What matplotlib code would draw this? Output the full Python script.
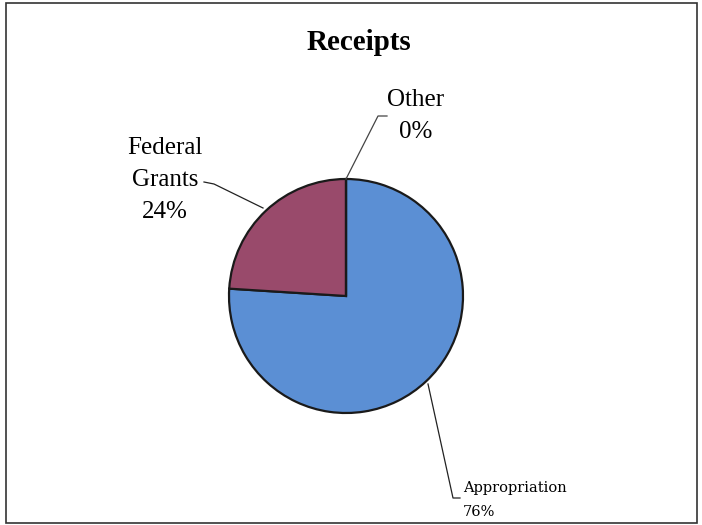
import matplotlib.pyplot as plt
from matplotlib.patches import Rectangle

TITLE = "Receipts"
LABELS = ["Appropriation", "Federal Grants", "Other"]
SHARES = [76, 24, 0]
COLORS = ["#5b8fd4", "#994a6b", "#d9d9d9"]

W, H = 702, 525

fig = plt.figure(figsize=(W / 100, H / 100), dpi=100)
ax = fig.add_axes([0, 0, 1, 1])

# pie drawn in pixel space (y up)
cx, cy, r = 346, H - 296, 117
ax.pie(
    SHARES,
    colors=COLORS,
    startangle=90,
    counterclock=False,
    center=(cx, cy),
    radius=r,
    wedgeprops={"edgecolor": "#1a1a1a", "linewidth": 1.6},
    frame=True,
)
ax.set_xlim(0, W)
ax.set_ylim(0, H)
ax.set_aspect("equal")
ax.axis("off")

# outer frame
ax.add_patch(Rectangle((6, 2), 691, H - 5, fill=False, edgecolor="#333333", linewidth=1.2))

serif = "Liberation Serif"
ax.text(359, H - 42, TITLE, ha="center", va="center", fontsize=21,
        fontweight="bold", family=serif)

pct = [f"{v}%" for v in SHARES]

ax.text(416, H - 116, f"{LABELS[2]}\n{pct[2]}", ha="center", va="center",
        fontsize=18, family=serif, linespacing=1.6)
ax.plot([387, 378, 346], [H - 116, H - 116, H - 179], color="#444444", lw=0.9)

ax.text(165, H - 180, "Federal\nGrants\n" + pct[1], ha="center", va="center",
        fontsize=18, family=serif, linespacing=1.6)
ax.plot([204, 214, 263], [H - 182, H - 184, H - 208], color="#222222", lw=0.9)

ax.text(463, H - 500, f"{LABELS[0]}\n{pct[0]}", ha="left", va="center",
        fontsize=10.5, family="DejaVu Serif", linespacing=1.9)
ax.plot([428, 453, 460], [H - 384, H - 498, H - 498], color="#222222", lw=0.9)

fig.savefig("out.png", dpi=100)
